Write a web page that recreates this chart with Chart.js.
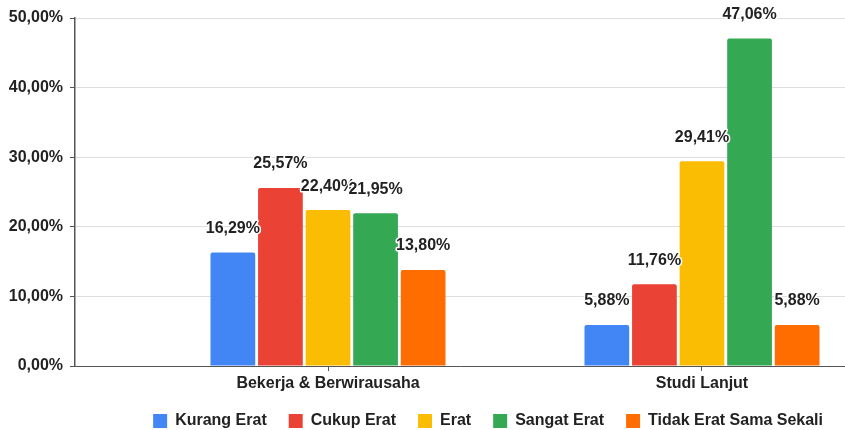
<!DOCTYPE html>
<html>
<head>
<meta charset="utf-8">
<script src="https://cdn.jsdelivr.net/npm/chart.js@4.4.0/dist/chart.umd.min.js"></script>
<style>
  html, body { margin: 0; padding: 0; background: #fff; width: 845px; height: 430px; overflow: hidden; }
  #wrap { position: relative; width: 845px; height: 439px; }
</style>
</head>
<body>
<div id="wrap"><canvas id="chart"></canvas></div>
<script>
const categories = ['Bekerja & Berwirausaha', 'Studi Lanjut'];
const seriesNames = ['Kurang Erat', 'Cukup Erat', 'Erat', 'Sangat Erat', 'Tidak Erat Sama Sekali'];
const kurangErat = [16.29, 5.88];
const cukupErat = [25.57, 11.76];
const erat = [22.40, 29.41];
const sangatErat = [21.95, 47.06];
const tidakErat = [13.80, 5.88];
const yTicks = [0, 10, 20, 30, 40, 50];
const colors = ['#4285F4', '#EA4335', '#FBBC04', '#34A853', '#FF6D01'];

const FONT = '"Liberation Sans", Arial, sans-serif';
const pct = v => v.toFixed(2).replace('.', ',') + '%';

// value labels above each bar, with a white halo
const valueLabels = {
    id: 'valueLabels',
    afterDatasetsDraw(chart) {
        const ctx = chart.ctx;
        ctx.save();
        ctx.font = 'bold 16px ' + FONT;
        ctx.textAlign = 'center';
        ctx.textBaseline = 'middle';
        ctx.lineJoin = 'round';
        ctx.lineWidth = 3;
        ctx.strokeStyle = '#fff';
        ctx.fillStyle = '#222';
        chart.data.datasets.forEach((ds, i) => {
            chart.getDatasetMeta(i).data.forEach((bar, j) => {
                const t = pct(ds.data[j].y);
                ctx.strokeText(t, bar.x, bar.y - 24);
                ctx.fillText(t, bar.x, bar.y - 24);
            });
        });
        ctx.restore();
    }
};

const allSeries = [kurangErat, cukupErat, erat, sangatErat, tidakErat];

new Chart(document.getElementById('chart'), {
    type: 'bar',
    data: {
        datasets: allSeries.map((vals, i) => ({
            label: seriesNames[i],
            data: vals.map((v, j) => ({ x: j, y: v })),
            backgroundColor: colors[i],
            borderRadius: 2,
            categoryPercentage: 0.636,
            barPercentage: 0.94
        }))
    },
    options: {
        responsive: true,
        maintainAspectRatio: false,
        animation: false,
        layout: { padding: { top: 18, left: 0, right: 0, bottom: 0 } },
        scales: {
            x: {
                type: 'linear',
                offset: false,
                min: -0.6765,
                max: 1.3824,
                afterBuildTicks: s => { s.ticks = categories.map((c, i) => ({ value: i })); },
                afterFit: s => { s.height = 25; },
                ticks: {
                    callback: v => categories[v],
                    color: '#222',
                    font: { family: FONT, size: 16, weight: 'bold' },
                    padding: 3,
                    maxRotation: 0
                },
                grid: { display: true, offset: false, drawOnChartArea: false, tickLength: 5, tickColor: '#555' },
                border: { color: '#555', width: 1 }
            },
            y: {
                min: 0,
                max: 50,
                afterBuildTicks: s => { s.ticks = yTicks.map(v => ({ value: v })); },
                afterFit: s => { s.width = 75; },
                ticks: {
                    callback: v => pct(v),
                    color: '#222',
                    font: { family: FONT, size: 16, weight: 'bold' },
                    padding: 7
                },
                grid: { color: '#dddddd', tickLength: 5, tickColor: '#555' },
                border: { color: '#555', width: 1.5 }
            }
        },
        plugins: {
            tooltip: { enabled: false },
            legend: {
                position: 'bottom',
                align: 'end',
                labels: {
                    boxWidth: 14,
                    boxHeight: 14,
                    padding: 22,
                    color: '#222',
                    font: { family: FONT, size: 16, weight: 'bold' }
                }
            }
        }
    },
    plugins: [valueLabels]
});
</script>
</body>
</html>
